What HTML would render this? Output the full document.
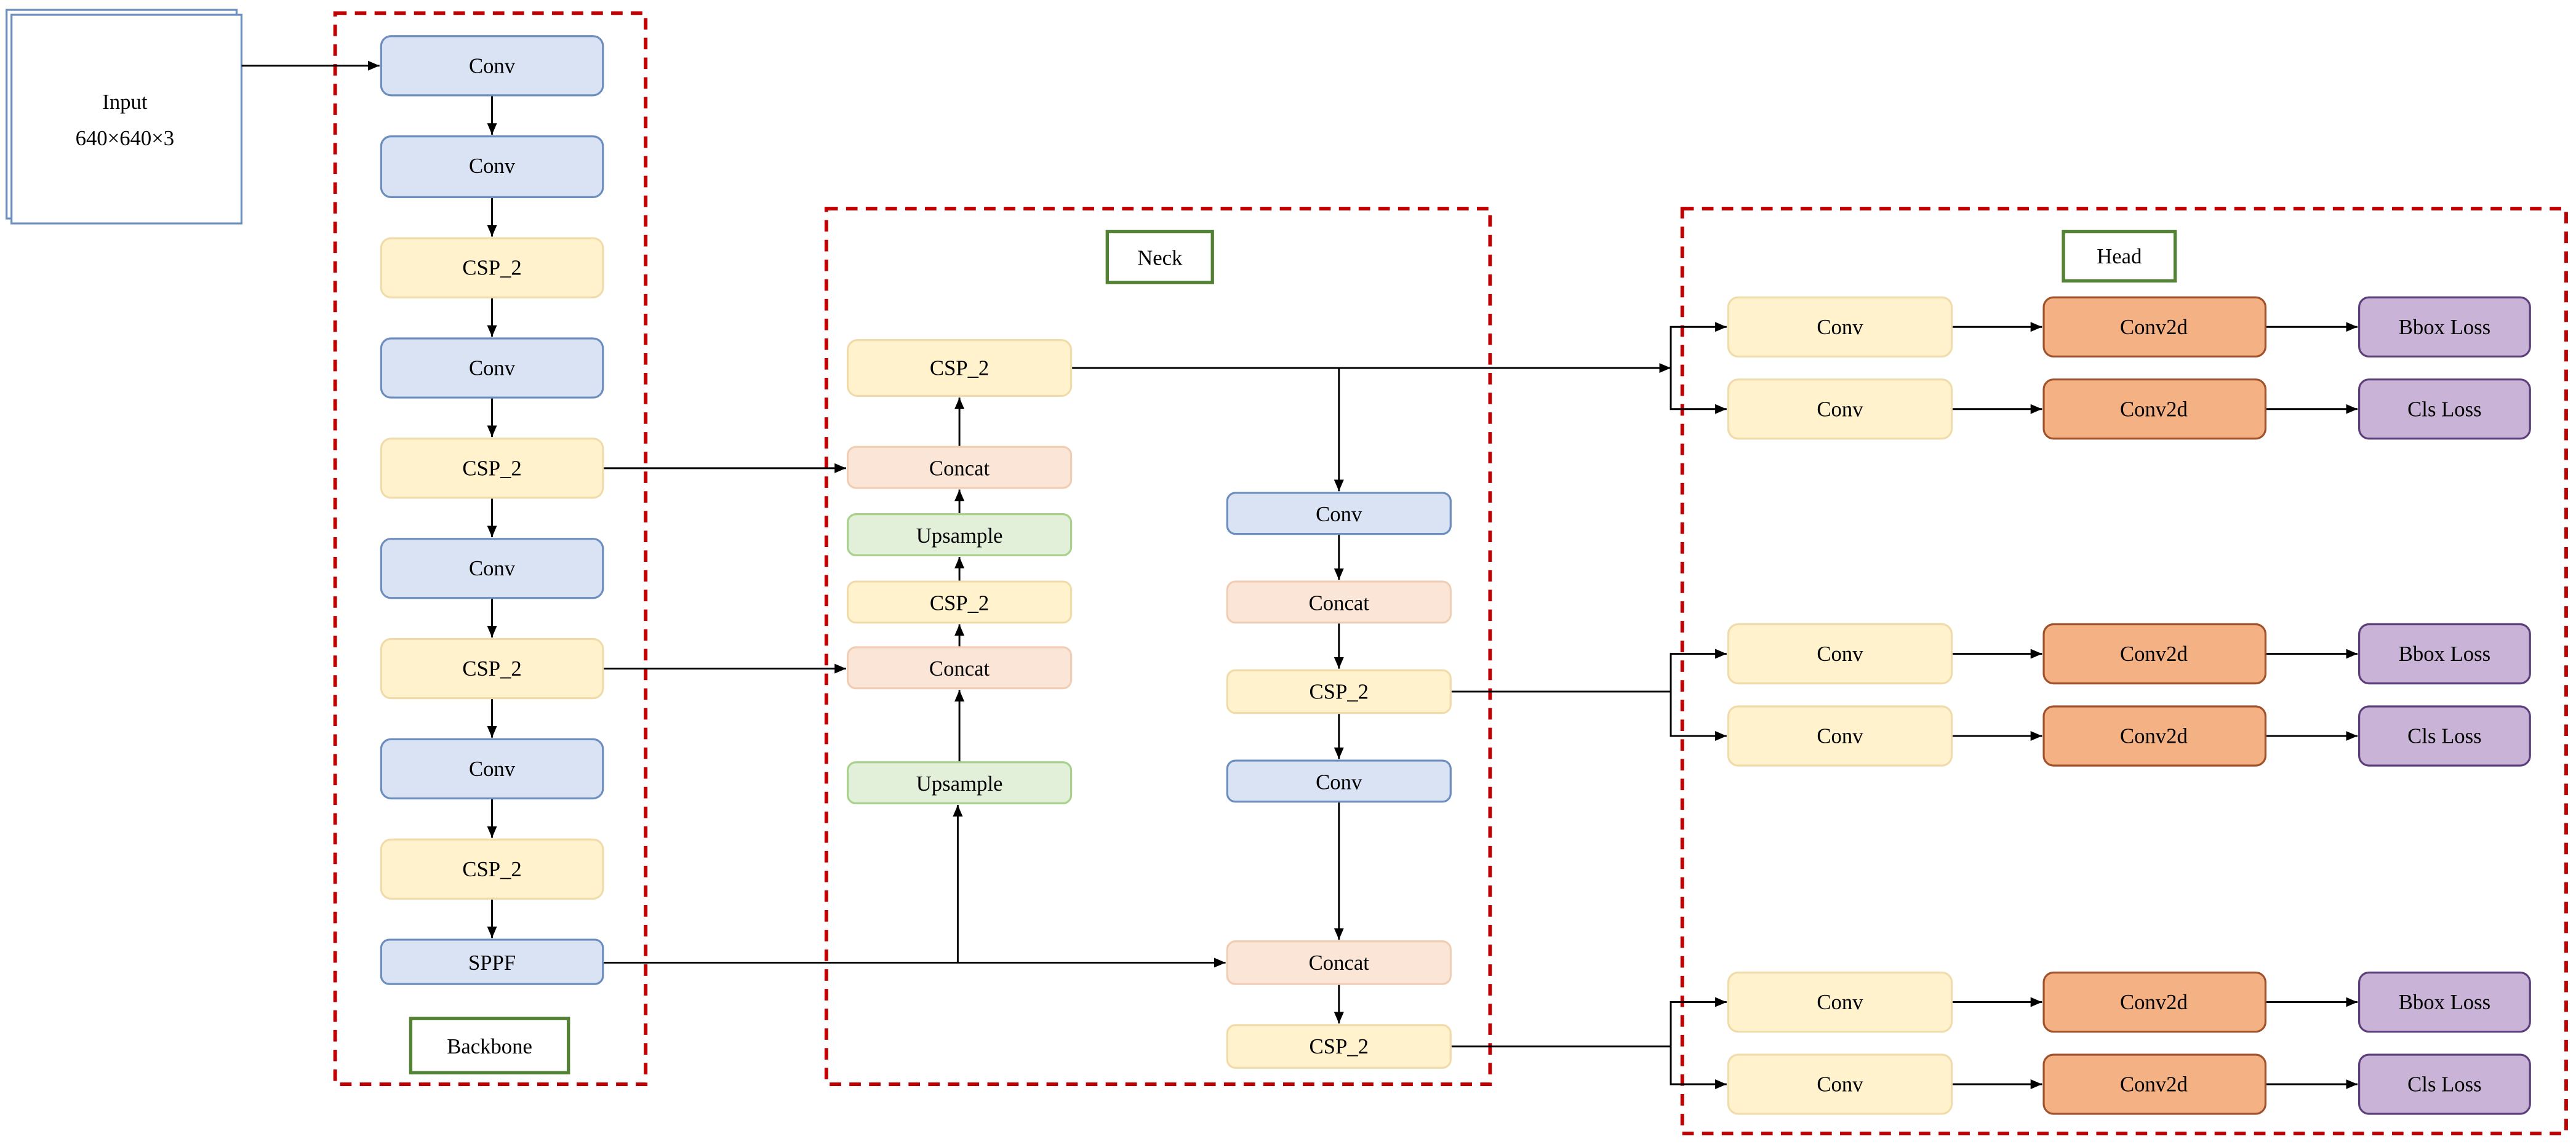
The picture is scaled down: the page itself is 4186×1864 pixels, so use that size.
<!DOCTYPE html>
<html><head><meta charset="utf-8"><style>
html,body{margin:0;padding:0;background:#fff;}
svg{display:block;}
text{font-family:"Liberation Serif",serif;font-size:13px;fill:#000;text-anchor:middle;dominant-baseline:central;}
</style></head><body>
<svg width="4186" height="1864" viewBox="0 0 1568 698.2" preserveAspectRatio="none" xmlns="http://www.w3.org/2000/svg">
<defs>
<marker id="a" markerWidth="8" markerHeight="8" refX="7" refY="4" orient="auto" markerUnits="userSpaceOnUse">
<path d="M0,1 L7,4 L0,7 Z" fill="#000"/></marker>
</defs>
<g fill="none" stroke="#c00000" stroke-width="2.2" stroke-dasharray="7,5">
<rect x="204" y="8" width="189" height="652"/>
<rect x="503" y="127" width="404" height="533"/>
<rect x="1024" y="127" width="538" height="563"/>
</g>
<!-- input -->
<rect x="4" y="6" width="140" height="127" fill="#fff" stroke="#6c8ebf" stroke-width="1.2"/>
<rect x="7" y="9" width="140" height="127" fill="#fff" stroke="#6c8ebf" stroke-width="1.2"/>
<text x="76" y="62">Input</text><text x="76" y="84">640×640×3</text>
<!-- labels -->
<g fill="#fff" stroke="#548235" stroke-width="2"><rect x="250" y="620" width="96" height="33"/><rect x="674" y="141" width="64" height="31"/><rect x="1256" y="141" width="68" height="30"/></g>
<text x="298" y="637">Backbone</text><text x="706" y="157">Neck</text><text x="1290" y="156">Head</text>
<!-- connectors -->
<g stroke="#000" stroke-width="1.1" fill="none" marker-end="url(#a)">
<path d="M147,40 H231"/>
<path d="M299.5,58 V82"/><path d="M299.5,120 V144"/><path d="M299.5,181 V205"/><path d="M299.5,242 V266"/><path d="M299.5,303 V327"/><path d="M299.5,364 V388"/><path d="M299.5,425 V449"/><path d="M299.5,486 V510"/><path d="M299.5,547 V571"/>
<path d="M367,285 H515"/><path d="M367,407 H515"/>
<path d="M367,586 H746"/><path d="M583,586 V490"/>
<path d="M584,464 V420"/><path d="M584,394 V380"/><path d="M584,354 V339"/><path d="M584,313 V298"/><path d="M584,272 V242"/>
<path d="M652,224 H1017"/><path d="M815,224 V299"/>
<path d="M815,325 V353"/><path d="M815,379 V407"/><path d="M815,434 V462"/><path d="M815,488 V572"/><path d="M815,599 V623"/>
<path d="M883,421 H1017" marker-end="none"/><path d="M883,637 H1017" marker-end="none"/>
<path d="M1017,224 V199 H1051"/><path d="M1017,224 V249 H1051"/>
<path d="M1017,421 V398 H1051"/><path d="M1017,421 V448 H1051"/>
<path d="M1017,637 V610 H1051"/><path d="M1017,637 V660 H1051"/>
<path d="M1188,199 H1243"/><path d="M1188,249 H1243"/><path d="M1188,398 H1243"/><path d="M1188,448 H1243"/><path d="M1188,610 H1243"/><path d="M1188,660 H1243"/>
<path d="M1379,199 H1435"/><path d="M1379,249 H1435"/><path d="M1379,398 H1435"/><path d="M1379,448 H1435"/><path d="M1379,610 H1435"/><path d="M1379,660 H1435"/>
</g>
<!-- backbone nodes -->
<g stroke-width="1.2">
<g fill="#dae3f3" stroke="#6c8ebf">
<rect x="232" y="22" width="135" height="36" rx="6"/><rect x="232" y="83" width="135" height="37" rx="6"/><rect x="232" y="206" width="135" height="36" rx="6"/><rect x="232" y="328" width="135" height="36" rx="6"/><rect x="232" y="450" width="135" height="36" rx="6"/><rect x="232" y="572" width="135" height="27" rx="5"/>
<rect x="747" y="300" width="136" height="25" rx="5"/><rect x="747" y="463" width="136" height="25" rx="5"/>
</g>
<g fill="#fff2cc" stroke="#f0dcaa">
<rect x="232" y="145" width="135" height="36" rx="6"/><rect x="232" y="267" width="135" height="36" rx="6"/><rect x="232" y="389" width="135" height="36" rx="6"/><rect x="232" y="511" width="135" height="36" rx="6"/>
<rect x="516" y="207" width="136" height="34" rx="6"/><rect x="516" y="354" width="136" height="25" rx="5"/>
<rect x="747" y="408" width="136" height="26" rx="5"/><rect x="747" y="624" width="136" height="26" rx="5"/>
<rect x="1052" y="181" width="136" height="36" rx="6"/><rect x="1052" y="231" width="136" height="36" rx="6"/><rect x="1052" y="380" width="136" height="36" rx="6"/><rect x="1052" y="430" width="136" height="36" rx="6"/><rect x="1052" y="592" width="136" height="36" rx="6"/><rect x="1052" y="642" width="136" height="36" rx="6"/>
</g>
<g fill="#fbe5d6" stroke="#f0cdb5">
<rect x="516" y="272" width="136" height="25" rx="5"/><rect x="516" y="394" width="136" height="25" rx="5"/>
<rect x="747" y="354" width="136" height="25" rx="5"/><rect x="747" y="573" width="136" height="26" rx="5"/>
</g>
<g fill="#e2f0d9" stroke="#a9d18e">
<rect x="516" y="313" width="136" height="25" rx="5"/><rect x="516" y="464" width="136" height="25" rx="5"/>
</g>
<g fill="#f4b183" stroke="#a0522d">
<rect x="1244" y="181" width="135" height="36" rx="6"/><rect x="1244" y="231" width="135" height="36" rx="6"/><rect x="1244" y="380" width="135" height="36" rx="6"/><rect x="1244" y="430" width="135" height="36" rx="6"/><rect x="1244" y="592" width="135" height="36" rx="6"/><rect x="1244" y="642" width="135" height="36" rx="6"/>
</g>
<g fill="#c9b3d6" stroke="#5c3f7a">
<rect x="1436" y="181" width="104" height="36" rx="6"/><rect x="1436" y="231" width="104" height="36" rx="6"/><rect x="1436" y="380" width="104" height="36" rx="6"/><rect x="1436" y="430" width="104" height="36" rx="6"/><rect x="1436" y="592" width="104" height="36" rx="6"/><rect x="1436" y="642" width="104" height="36" rx="6"/>
</g>
</g>
<g>
<text x="299.5" y="40">Conv</text><text x="299.5" y="101">Conv</text><text x="299.5" y="163">CSP_2</text><text x="299.5" y="224">Conv</text><text x="299.5" y="285">CSP_2</text><text x="299.5" y="346">Conv</text><text x="299.5" y="407">CSP_2</text><text x="299.5" y="468">Conv</text><text x="299.5" y="529">CSP_2</text><text x="299.5" y="586">SPPF</text>
<text x="584" y="224">CSP_2</text><text x="584" y="285">Concat</text><text x="584" y="326">Upsample</text><text x="584" y="367">CSP_2</text><text x="584" y="407">Concat</text><text x="584" y="477">Upsample</text>
<text x="815" y="313">Conv</text><text x="815" y="367">Concat</text><text x="815" y="421">CSP_2</text><text x="815" y="476">Conv</text><text x="815" y="586">Concat</text><text x="815" y="637">CSP_2</text>
<text x="1120" y="199">Conv</text><text x="1120" y="249">Conv</text><text x="1120" y="398">Conv</text><text x="1120" y="448">Conv</text><text x="1120" y="610">Conv</text><text x="1120" y="660">Conv</text>
<text x="1311" y="199">Conv2d</text><text x="1311" y="249">Conv2d</text><text x="1311" y="398">Conv2d</text><text x="1311" y="448">Conv2d</text><text x="1311" y="610">Conv2d</text><text x="1311" y="660">Conv2d</text>
<text x="1488" y="199">Bbox Loss</text><text x="1488" y="249">Cls Loss</text><text x="1488" y="398">Bbox Loss</text><text x="1488" y="448">Cls Loss</text><text x="1488" y="610">Bbox Loss</text><text x="1488" y="660">Cls Loss</text>
</g>
</svg>
</body></html>
